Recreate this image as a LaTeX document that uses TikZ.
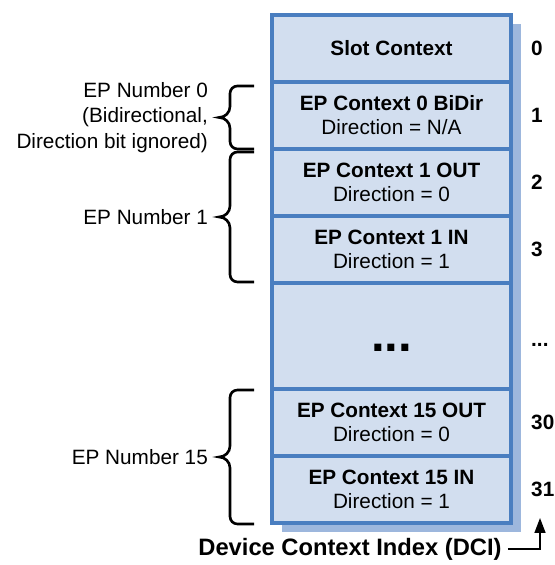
\documentclass[tikz,border=0pt]{standalone}
\usepackage{fontspec}
\setmainfont{Liberation Sans}
\usetikzlibrary{positioning,shadows,arrows.meta}
\definecolor{ctxline}{RGB}{74,126,192}
\definecolor{ctxfill}{RGB}{210,222,239}
\definecolor{ctxshadow}{RGB}{157,183,221}

\begin{document}
\begin{tikzpicture}[cell/.style = {draw=ctxline, fill=ctxfill, line width=2.2pt, minimum width=4.78cm,
        minimum height=1.34cm, outer sep=0pt, align=center, font=\fontsize{11.8}{13.6}\selectfont,
        drop shadow={shadow xshift=0.2cm, shadow yshift=-0.18cm, fill=ctxshadow, opacity=1}},
    every label/.style = {font=\fontsize{11.8}{13.6}\selectfont\bfseries},
    label distance=0.28cm,
    brace/.style = {line width=1.5pt},
    epnum/.style = {align=right, font=\fontsize{11.8}{14.5}\selectfont}]
        \useasboundingbox (0,0) rectangle (11.08,11.3);
        % the context stack
        \node[cell, label=right:0] (slot) at (7.83,10.33) {\textbf{Slot Context}};
        \node[cell, label=right:1] (ep0) [below=0pt of slot] {\textbf{EP Context 0 BiDir}\\Direction = N/A};
        \node[cell, label=right:2] (ep1out) [below=0pt of ep0] {\textbf{EP Context 1 OUT}\\Direction = 0};
        \node[cell, label=right:3] (ep1in) [below=0pt of ep1out] {\textbf{EP Context 1 IN}\\Direction = 1};
        \node[cell, minimum height=2.12cm, text height=0.62cm, text depth=0pt,
          label={[yshift=-0.18cm]right:...}] (gap) [below=0pt of ep1in] {\fontsize{28}{28}\selectfont\bfseries ...};
        \node[cell, label=right:30] (ep15out) [below=0pt of gap] {\textbf{EP Context 15 OUT}\\Direction = 0};
        \node[cell, label=right:31] (ep15in) [below=0pt of ep15out] {\textbf{EP Context 15 IN}\\Direction = 1};
        % braces
        \draw[brace] (5.08,9.58) -- (4.75,9.58) to[out=180,in=90] (4.60,9.43) -- (4.60,9.17)
          to[out=-90,in=0] (4.38,8.95) node[epnum, left=0.08cm] {EP Number 0\\(Bidirectional,\\Direction bit ignored)}
          to[out=0,in=90] (4.60,8.73) -- (4.60,8.47) to[out=-90,in=180] (4.75,8.32) -- (5.08,8.32);
        \draw[brace] (5.08,8.26) -- (4.75,8.26) to[out=180,in=90] (4.60,8.11) -- (4.60,7.18)
          to[out=-90,in=0] (4.38,6.96) node[epnum, left=0.08cm] {EP Number 1}
          to[out=0,in=90] (4.60,6.74) -- (4.60,5.81) to[out=-90,in=180] (4.75,5.66) -- (5.08,5.66);
        \draw[brace] (5.08,3.50) -- (4.75,3.50) to[out=180,in=90] (4.60,3.35) -- (4.60,2.38)
          to[out=-90,in=0] (4.38,2.16) node[epnum, left=0.08cm] {EP Number 15}
          to[out=0,in=90] (4.60,1.94) -- (4.60,0.97) to[out=-90,in=180] (4.75,0.82) -- (5.08,0.82);
        % index caption
        \node[font=\fontsize{13.5}{16}\selectfont\bfseries] (dci) at (7.0,0.32) {Device Context Index (DCI)};
        \coordinate (dcitip) at (10.8,0.94);
        \draw[line width=0.9pt, -{Triangle[length=0.3cm, width=0.22cm]}] (dci) -| (dcitip);
      \end{tikzpicture}
\end{document}
